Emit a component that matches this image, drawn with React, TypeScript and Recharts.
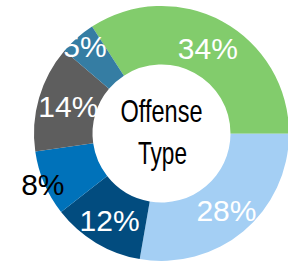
import { PieChart, Pie, Cell, Label } from 'recharts';

const categories = ['Group 1', 'Group 2', 'Group 3', 'Group 4', 'Group 5', 'Group 6'];
const shares = [34.2, 27.7, 11.7, 8.3, 13.5, 4.6];
const shareLabels = ['34%', '28%', '12%', '8%', '14%', '5%'];
const title = ['Offense', 'Type'];

const COLORS = ['#82CC6C', '#A4CFF4', '#024C7F', '#0072BA', '#5E5E5E', '#357DA3'];
const LABEL_FILL = ['#fff', '#fff', '#fff', '#000', '#fff', '#fff'];
const LABEL_R = [97, 101, 101, 129, 97, 116];

const CX = 161.5;
const CY = 133.5;

const data = categories.map((name, i) => ({ name, value: shares[i], label: shareLabels[i] }));

const RAD = Math.PI / 180;

// eslint-disable-next-line @typescript-eslint/no-explicit-any
function renderLabel(props: any) {
  const { cx, cy, midAngle, index } = props;
  const r = LABEL_R[index];
  const x = cx + r * Math.cos(-midAngle * RAD);
  const y = cy + r * Math.sin(-midAngle * RAD);
  return (
    <text
      x={x} y={y} textAnchor="middle" dominantBaseline="central"
      fill={LABEL_FILL[index]} fontSize={30}
      fontFamily="'Liberation Sans', Arial, Helvetica, sans-serif"
    >
      {data[index].label}
    </text>
  );
}

// condensed title: squeeze a regular face to the narrow width of the original
function CenterTitle() {
  return (
    <g fill="#000" fontSize={32} fontFamily="'Liberation Sans', Arial, sans-serif">
      <text x={CX} y={CY - 12} textAnchor="middle" textLength={82} lengthAdjust="spacingAndGlyphs">
        {title[0]}
      </text>
      <text x={CX + 1} y={CY + 30.5} textAnchor="middle" textLength={49} lengthAdjust="spacingAndGlyphs">
        {title[1]}
      </text>
    </g>
  );
}

export default function App() {
  return (
    <div style={{ position: 'absolute', left: 0, top: 0, width: 288, height: 268, background: '#fff' }}>
      <PieChart width={288} height={268} margin={{ top: 0, right: 0, bottom: 0, left: 0 }}>
        <Pie
          data={data} dataKey="value" nameKey="name"
          cx={CX} cy={CY} innerRadius={69} outerRadius={127.5}
          startAngle={123} endAngle={-237}
          stroke="none" label={renderLabel} labelLine={false}
          isAnimationActive={false}
        >
          {data.map((d, i) => <Cell key={d.name} fill={COLORS[i]} />)}
          <Label position="center" content={CenterTitle} />
        </Pie>
      </PieChart>
    </div>
  );
}
